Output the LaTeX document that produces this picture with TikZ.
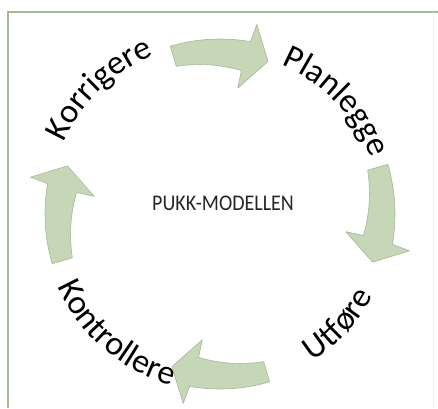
\documentclass[tikz,border=0pt]{standalone}
\usepackage{fontspec}
\setmainfont{Carlito}
\usetikzlibrary{decorations.text}
\definecolor{arrowfill}{RGB}{197,215,182}
\definecolor{arrowline}{RGB}{165,185,150}
\definecolor{framecol}{RGB}{165,185,145}
\newcommand{\bigfont}{\fontsize{34}{34}\selectfont}
\begin{document}
\begin{tikzpicture}[x=1pt,y=1pt,
  cyclearrow/.style={fill=arrowfill, draw=arrowline, line width=0.6pt, line join=round},
  framebox/.style={draw=framecol, line width=1.2pt},
  curvedlabel/.style={decorate, decoration={text along path, text align=center, text={|\bigfont|#1}}}]
\useasboundingbox (0,0) rectangle (438,408);
\fill[white] (0,0) rectangle (438,408);
\draw[framebox] (8,0) -- (8,396) -- (438,396);
\draw[black!6, line width=0.8pt] (433,0) -- (433,396);
\coordinate (C) at (220,194);
\foreach \rot in {0,-90,-180,-270}{
  \begin{scope}[shift={(C)}, rotate=\rot]
    \filldraw[cyclearrow] (106.5:175) arc[start angle=106.5, end angle=80, radius=175]
      -- (79:193) -- (72.5:160) -- (82:127) -- (81.5:145)
      -- plot[domain=81.5:106.5, samples=15] (\x:{145+(\x-81.5)*0.36}) -- cycle;
  \end{scope}
}
\path[curvedlabel=Korrigere] (C) ++(169:172) arc[start angle=169, end angle=99, radius=172];
\path[curvedlabel=Planlegge] (C) ++(79:161) arc[start angle=79, end angle=9, radius=161];
\path[curvedlabel=Utføre] (C) ++(-78:174) arc[start angle=-78, end angle=-8, radius=174];
\path[curvedlabel=Kontrollere] (C) ++(194:178) arc[start angle=194, end angle=264, radius=178];
\node[font=\fontsize{20}{20}\selectfont, text=black!85, yscale=1.12, transform shape] (title) at (223,205) {PUKK-MODELLEN};
\end{tikzpicture}
\end{document}
